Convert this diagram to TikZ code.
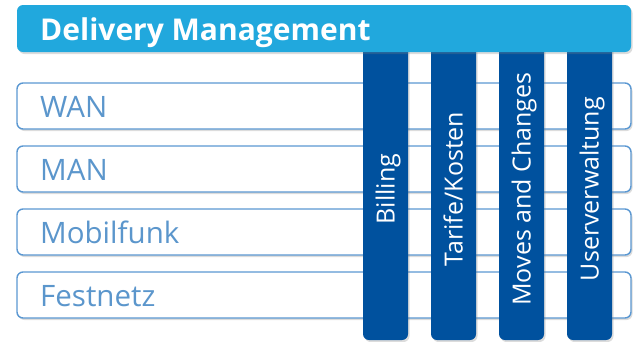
\documentclass[tikz,border=0pt]{standalone}
\usepackage{fontspec}
\setmainfont{Open Sans}
\usetikzlibrary{shadows}
\definecolor{hdrblue}{HTML}{21A8DD}
\definecolor{colblue}{HTML}{00519E}
\definecolor{rowline}{HTML}{5B98D2}
\definecolor{rowtext}{HTML}{5B96CC}
\tikzset{
  shd/.style={drop shadow={opacity=0.28, shadow xshift=1.5pt, shadow yshift=-2pt}},
  rowbox/.style={draw=rowline, line width=1.4pt, fill=white, rounded corners=6pt, shd},
  colbox/.style={fill=colblue, rounded corners=6pt, shd},
  hdrbox/.style={fill=hdrblue, rounded corners=6pt, shd},
  rowlabel/.style={anchor=base west, text=rowtext, font=\fontsize{29.5}{32}\selectfont, inner sep=0pt},
  collabel/.style={rotate=90, anchor=base, text=white, font=\fontsize{25}{28}\selectfont, inner sep=0pt},
  hdrlabel/.style={anchor=base west, text=white, font=\bfseries\fontsize{30}{34}\selectfont, inner sep=0pt}
}
\begin{document}
\begin{tikzpicture}[x=1pt,y=-1pt]
\useasboundingbox (0,0) rectangle (637,341);
% rows
\foreach \name/\txt/\top in {wan/WAN/83, man/MAN/146, mob/Mobilfunk/209, fest/Festnetz/272}{
  \path[rowbox] (17,\top) rectangle (631,\top+46);
  \node[rowlabel] (\name) at (40,\top+34) {\txt};
}
% columns
\foreach \name/\txt/\cx in {bill/Billing/385.5, tar/Tarife\slash Kosten/453.5, mov/Moves and Changes/521.5, usr/Userverwaltung/589.5}{
  \path[colbox] (\cx-22.5,25) rectangle (\cx+22.5,340);
  \node[collabel] (\name) at (\cx+9,189) {\txt};
}
% header
\path[hdrbox] (17,5) rectangle (631,52);
\node[hdrlabel] (hdr) at (40,40) {Delivery Management};
\end{tikzpicture}
\end{document}
